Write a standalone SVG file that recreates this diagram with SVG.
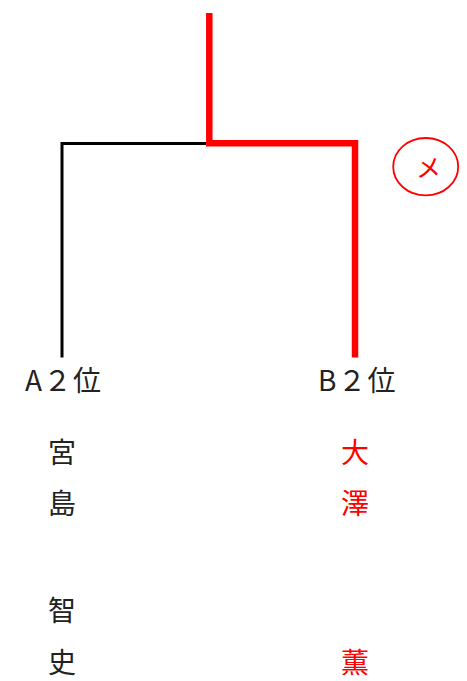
<svg xmlns="http://www.w3.org/2000/svg" width="467" height="681" viewBox="0 0 467 681">
<style>
.t{font-family:"Noto Sans CJK JP","Noto Sans CJK SC",sans-serif;font-size:28px;fill:#222}
.r{fill:#ff0000}
.c{text-anchor:middle}
.lbl{letter-spacing:1.5px}
.red{stroke:#ff0000;stroke-width:6.5;fill:none;stroke-linecap:butt;stroke-linejoin:miter}
.blk{stroke:#000;stroke-width:3;fill:none}
</style>
<rect width="467" height="681" fill="#fff"/>
<g id="connectors">
<polyline class="blk" points="206,143.5 62,143.5 62,357.5"/>
<polyline class="red" points="209.3,13 209.3,143.3 355,143.3 355,357.5"/>
</g>
<g id="mark">
<ellipse cx="425.7" cy="166.7" rx="32.5" ry="28.7" fill="none" stroke="#ff0000" stroke-width="1.8"/>
<text x="428.5" y="177" class="t r c" style="font-size:25px">メ</text>
</g>
<g id="nodeA">
<text x="25" y="391" class="t lbl">A２位</text>
<text x="62" y="463" class="t c">宮</text>
<text x="62" y="514" class="t c">島</text>
<text x="62" y="621" class="t c">智</text>
<text x="62" y="673" class="t c">史</text>
</g>
<g id="nodeB">
<text x="318" y="391" class="t lbl">B２位</text>
<text x="355" y="463" class="t r c">大</text>
<text x="355" y="514" class="t r c">澤</text>
<text x="355" y="673" class="t r c">薫</text>
</g>
</svg>
